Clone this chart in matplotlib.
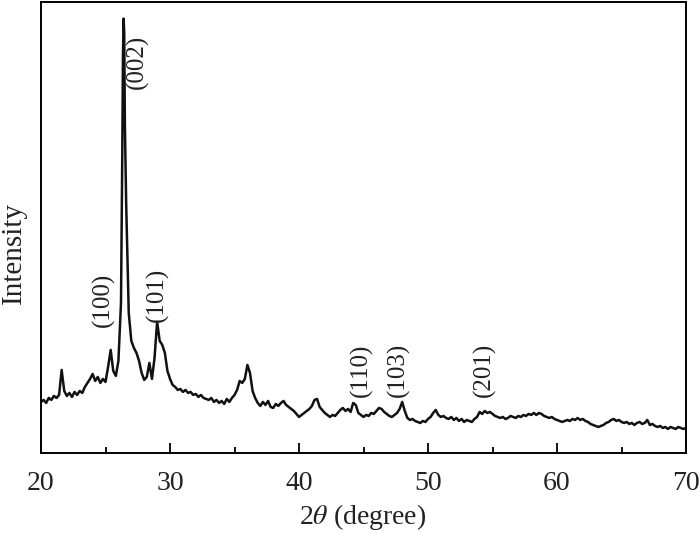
import numpy as np
import matplotlib
matplotlib.use("Agg")
import matplotlib.pyplot as plt
from matplotlib.ticker import MultipleLocator

plt.rcParams['font.family'] = ['Liberation Serif', 'DejaVu Serif']
plt.rcParams['mathtext.fontset'] = 'stix'

# 2theta grid, 0.2 degree step, 20..70
two_theta = np.round(np.arange(20.0, 70.01, 0.2), 1)

# intensity (arbitrary units), one row per degree
intensity = [
    51, 53, 50, 55, 53,      # 20
    57, 55, 58, 83, 62,      # 21
    57, 60, 56, 61, 58,      # 22
    62, 60, 66, 70, 74,      # 23
    79, 72, 76, 70, 74,      # 24
    71, 86, 103, 82, 77,     # 25
    92, 150, 434, 250, 140,  # 26
    112, 105, 100, 92, 80,   # 27
    73, 76, 90, 74, 95,      # 28
    131, 112, 108, 100, 82,  # 29
    74, 68, 66, 63, 64,      # 30
    61, 63, 60, 61, 58,      # 31
    59, 56, 58, 55, 54,      # 32
    53, 55, 51, 53, 50,      # 33
    52, 49, 54, 51, 55,      # 34
    58, 63, 72, 70, 74,      # 35
    88, 80, 62, 55, 50,      # 36
    47, 51, 48, 52, 46,      # 37
    45, 49, 47, 50, 52,      # 38
    48, 46, 44, 42, 39,      # 39
    36, 38, 40, 42, 44,      # 40
    47, 53, 54, 46, 43,      # 41
    40, 38, 36, 38, 37,      # 42
    40, 43, 45, 42, 44,      # 43
    41, 50, 48, 40, 38,      # 44
    36, 38, 37, 40, 39,      # 45
    42, 45, 44, 41, 39,      # 46
    37, 36, 38, 40, 44,      # 47
    51, 42, 35, 33, 34,      # 48
    32, 31, 30, 32, 31,      # 49
    34, 36, 40, 43, 38,      # 50
    36, 37, 35, 34, 36,      # 51
    33, 35, 32, 34, 31,      # 52
    33, 32, 31, 34, 36,      # 53
    41, 39, 42, 40, 41,      # 54
    39, 37, 36, 35, 36,      # 55
    34, 35, 37, 36, 35,      # 56
    37, 36, 38, 37, 39,      # 57
    38, 40, 38, 40, 39,      # 58
    37, 36, 35, 36, 34,      # 59
    33, 32, 31, 32, 33,      # 60
    32, 34, 33, 35, 33,      # 61
    34, 32, 31, 29, 28,      # 62
    27, 26, 27, 28, 30,      # 63
    31, 33, 34, 32, 33,      # 64
    31, 30, 31, 29, 30,      # 65
    28, 30, 31, 29, 30,      # 66
    33, 28, 29, 27, 26,      # 67
    27, 25, 26, 24, 26,      # 68
    25, 24, 26, 25, 24,      # 69
    25,                      # 70
]

# extra points across the sharp (002) reflection
peak_theta = [26.3, 26.35, 26.45, 26.5]
peak_int = [300, 395, 420, 330]

# reflection labels
hkl_labels = ['(100)', '(002)', '(101)', '(110)', '(103)', '(201)']
hkl_x = [24.8, 27.5, 29.0, 44.8, 47.7, 54.4]
hkl_y = [153, 391, 158, 83, 83, 83]

x = np.concatenate([two_theta, peak_theta])
y = np.concatenate([np.array(intensity, dtype=float), peak_int])
order = np.argsort(x)
x, y = x[order], y[order]

fig = plt.figure(figsize=(7.0, 5.34), dpi=100)
ax = fig.add_axes([0.0586, 0.1517, 0.9214, 0.8453])

ax.plot(x, y, color='#111111', linewidth=1.8)

for lab, lx, ly in zip(hkl_labels, hkl_x, hkl_y):
    ax.text(lx, ly, lab, rotation=90, ha='center', va='center', fontsize=18,
            color='#222222')

ax.set_xlim(20, 70)
ax.set_ylim(0, 451)
ax.xaxis.set_major_locator(MultipleLocator(10))
ax.xaxis.set_minor_locator(MultipleLocator(5))
ax.tick_params(axis='x', which='major', direction='in', length=7, width=1.3,
               labelsize=20, pad=13, labelcolor='#222222')
ax.tick_params(axis='x', which='minor', direction='in', length=4, width=1.3)
ax.set_yticks([])
for s in ax.spines.values():
    s.set_linewidth(1.4)

# axis titles placed in figure pixels
fig.text(363 / 700, 1 - 517 / 534, r'2$\theta$ (degree)', fontsize=20,
         ha='center', va='center', color='#222222')
fig.text(14 / 700, 1 - 253 / 534, 'Intensity', fontsize=21, rotation=90,
         ha='center', va='center', color='#222222')

fig.savefig('out.png', dpi=100)
